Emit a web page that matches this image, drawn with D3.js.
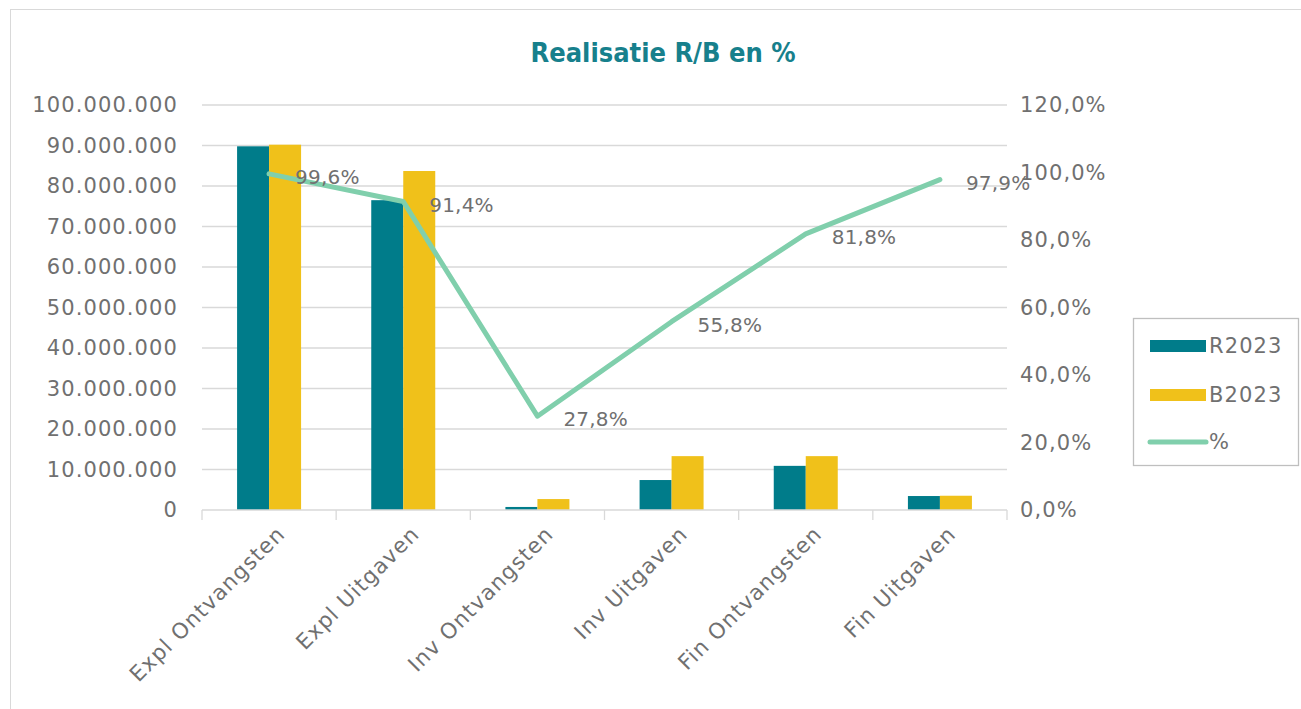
<!DOCTYPE html>
<html>
<head>
<meta charset="utf-8">
<script src="https://cdn.jsdelivr.net/npm/d3@7/dist/d3.min.js"></script>
<style>
  body { margin: 0; background: #fff; }
  text { font-family: "DejaVu Sans", "Noto Sans", sans-serif; letter-spacing: 1.1px; }
  text.title { font-family: "DejaVu Sans Condensed", "DejaVu Sans", sans-serif; letter-spacing: 0; }
  text.dlabel { letter-spacing: 0.2px; }
</style>
</head>
<body>
<script>
// Data
var categories = ["Expl Ontvangsten", "Expl Uitgaven", "Inv Ontvangsten", "Inv Uitgaven", "Fin Ontvangsten", "Fin Uitgaven"];
var realisatie = [89800000, 76500000, 750000, 7400000, 10900000, 3450000];
var begroting = [90200000, 83700000, 2700000, 13300000, 13300000, 3520000];
var percentage = [99.6, 91.4, 27.8, 55.8, 81.8, 97.9];
var leftTicks = [0, 10000000, 20000000, 30000000, 40000000, 50000000, 60000000, 70000000, 80000000, 90000000, 100000000];
var rightTicks = [0, 20, 40, 60, 80, 100, 120];
var seriesNames = ["R2023", "B2023", "%"];

var colR = "#007c8a", colB = "#f0c11a", colLine = "#80cfac", textCol = "#707070";

var width = 1301, height = 709;
var svg = d3.select("body").append("svg")
  .attr("width", width)
  .attr("height", height);

// chart border
svg.append("rect")
  .attr("x", 10.5).attr("y", 9.5)
  .attr("width", 1320).attr("height", 720)
  .attr("fill", "none").attr("stroke", "#d9d9d9");

var plotLeft = 202, plotRight = 1007, plotTop = 105, plotBottom = 510;

var x = d3.scaleBand().domain(categories).range([plotLeft, plotRight]);
var yL = d3.scaleLinear().domain([0, 100000000]).range([plotBottom, plotTop]);
var yR = d3.scaleLinear().domain([0, 120]).range([plotBottom, plotTop]);

var fmtL = function (d) { return d3.format(",")(d).replace(/,/g, "."); };
var fmtR = function (d) { return d3.format(".1f")(d).replace(".", ",") + "%"; };

// title
svg.append("text")
  .attr("class", "title")
  .attr("x", 663).attr("y", 62)
  .attr("text-anchor", "middle")
  .attr("fill", "#17808c")
  .style("font-size", "27px").style("font-weight", "700")
  .text("Realisatie R/B en %");

// gridlines
svg.append("g").selectAll("line")
  .data(leftTicks.slice(1))
  .join("line")
  .attr("x1", plotLeft).attr("x2", plotRight)
  .attr("y1", function (d) { return yL(d); })
  .attr("y2", function (d) { return yL(d); })
  .attr("stroke", "#d9d9d9").attr("stroke-width", 1.3);

// left axis labels
svg.append("g").selectAll("text")
  .data(leftTicks)
  .join("text")
  .attr("x", 178)
  .attr("y", function (d) { return yL(d); })
  .attr("dy", "0.35em")
  .attr("text-anchor", "end")
  .attr("fill", textCol)
  .style("font-size", "21px")
  .text(fmtL);

// right axis labels
svg.append("g").selectAll("text")
  .data(rightTicks)
  .join("text")
  .attr("x", 1020)
  .attr("y", function (d) { return yR(d); })
  .attr("dy", "0.35em")
  .attr("text-anchor", "start")
  .attr("fill", textCol)
  .style("font-size", "21px")
  .text(fmtR);

// bars
var bw = 32;
var barG = svg.append("g");
barG.selectAll("rect.r")
  .data(realisatie)
  .join("rect").attr("class", "r")
  .attr("x", function (d, i) { return x(categories[i]) + x.bandwidth() / 2 - bw; })
  .attr("y", function (d) { return yL(d); })
  .attr("width", bw)
  .attr("height", function (d) { return plotBottom - yL(d); })
  .attr("fill", colR);
barG.selectAll("rect.b")
  .data(begroting)
  .join("rect").attr("class", "b")
  .attr("x", function (d, i) { return x(categories[i]) + x.bandwidth() / 2; })
  .attr("y", function (d) { return yL(d); })
  .attr("width", bw)
  .attr("height", function (d) { return plotBottom - yL(d); })
  .attr("fill", colB);

// x axis line + ticks
var axisG = svg.append("g");
axisG.append("line")
  .attr("x1", plotLeft).attr("x2", plotRight)
  .attr("y1", plotBottom).attr("y2", plotBottom)
  .attr("stroke", "#d9d9d9").attr("stroke-width", 1.3);
var bounds = categories.map(function (c) { return x(c); }).concat([plotRight]);
axisG.selectAll("line.tick")
  .data(bounds)
  .join("line").attr("class", "tick")
  .attr("x1", function (d) { return d; }).attr("x2", function (d) { return d; })
  .attr("y1", plotBottom).attr("y2", plotBottom + 10)
  .attr("stroke", "#d9d9d9").attr("stroke-width", 1.3);

// category labels
axisG.selectAll("text")
  .data(categories)
  .join("text")
  .attr("transform", function (d) {
    return "translate(" + (x(d) + x.bandwidth() / 2 + 12) + "," + (plotBottom + 20) + ") rotate(-45)";
  })
  .attr("text-anchor", "end")
  .attr("dy", "0.35em")
  .attr("fill", textCol)
  .style("font-size", "21.5px")
  .text(function (d) { return d; });

// line
var line = d3.line()
  .x(function (d, i) { return x(categories[i]) + x.bandwidth() / 2; })
  .y(function (d) { return yR(d); });
svg.append("path")
  .datum(percentage)
  .attr("d", line)
  .attr("fill", "none")
  .attr("stroke", colLine)
  .attr("stroke-width", 5)
  .attr("stroke-linejoin", "round")
  .attr("stroke-linecap", "round");

// data labels
svg.append("g").selectAll("text")
  .data(percentage)
  .join("text")
  .attr("class", "dlabel")
  .attr("x", function (d, i) { return x(categories[i]) + x.bandwidth() / 2 + 26; })
  .attr("y", function (d) { return yR(d) + 3; })
  .attr("dy", "0.35em")
  .attr("fill", textCol)
  .style("font-size", "20px")
  .text(function (d) { return fmtR(d); });

// legend
var lg = svg.append("g");
lg.append("rect")
  .attr("x", 1133.5).attr("y", 318.5)
  .attr("width", 165).attr("height", 147)
  .attr("fill", "#fff").attr("stroke", "#bfbfbf").attr("stroke-width", 1.3);
var legY = [346, 395, 442];
seriesNames.forEach(function (s, i) {
  if (i < 2) {
    lg.append("rect")
      .attr("x", 1150).attr("y", legY[i] - 6)
      .attr("width", 56).attr("height", 12)
      .attr("fill", i === 0 ? colR : colB);
  } else {
    lg.append("line")
      .attr("x1", 1150).attr("x2", 1206)
      .attr("y1", legY[i]).attr("y2", legY[i])
      .attr("stroke", colLine).attr("stroke-width", 5)
      .attr("stroke-linecap", "round");
  }
  lg.append("text")
    .attr("x", 1209).attr("y", legY[i])
    .attr("dy", "0.35em")
    .attr("fill", textCol)
    .style("font-size", "21px")
    .text(s);
});
</script>
</body>
</html>
